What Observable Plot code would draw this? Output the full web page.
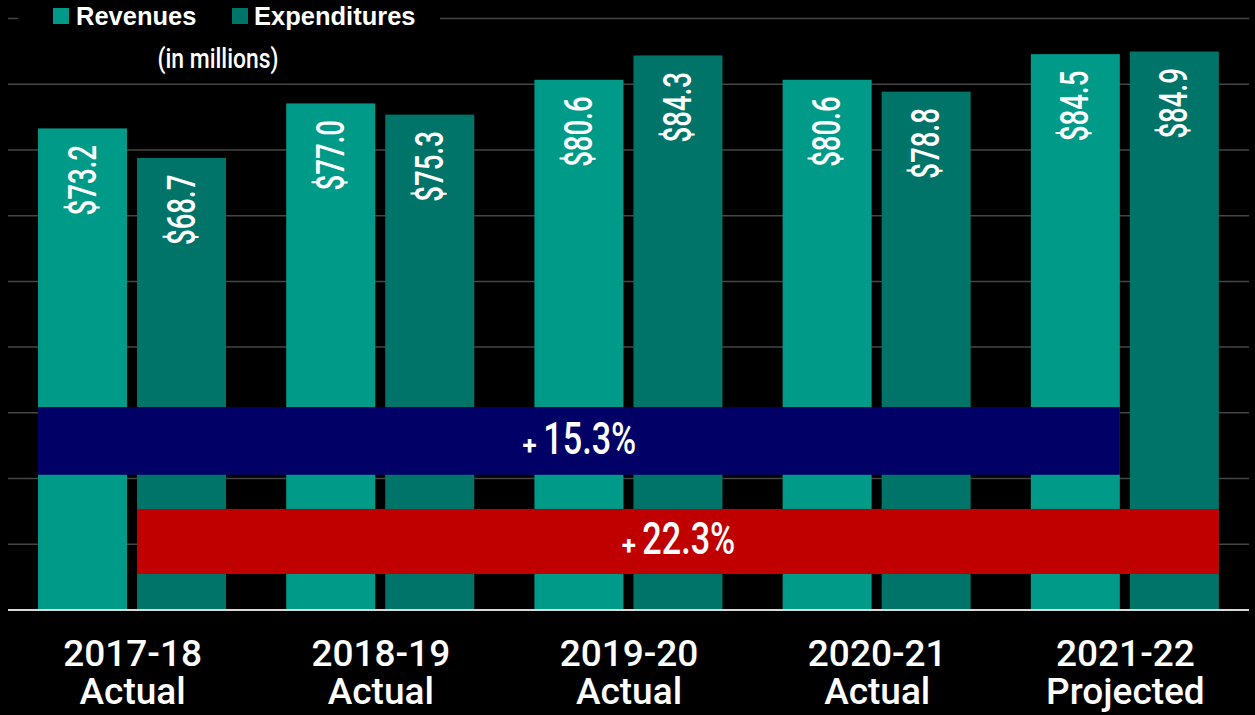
<!DOCTYPE html>
<html>
<head>
<meta charset="utf-8">
<script src="https://cdn.jsdelivr.net/npm/d3@7"></script>
<script src="https://cdn.jsdelivr.net/npm/@observablehq/plot@0.6"></script>
<style>
  html, body { margin: 0; padding: 0; background: #000; }
  #wrap { position: relative; width: 1255px; height: 715px; overflow: hidden; background: #000; }
  #chart svg { display: block; }
  #legend { position: absolute; left: 18px; top: 0; width: 422px; height: 34px; background: #000;
            font-family: "Liberation Sans", Arial, sans-serif; font-weight: bold; font-size: 25.5px; color: #fff; }
  #legend .sw { position: absolute; top: 8px; width: 16px; height: 16px; }
  #legend .lb { position: absolute; top: 4px; line-height: 25px; white-space: nowrap; }
  #unit { position: absolute; left: 218px; top: 44px; color: #fff; white-space: nowrap;
          font-family: Roboto, "Liberation Sans", sans-serif; font-weight: 500; font-size: 27px; line-height: 30px;
          transform-origin: 0 0; }
</style>
</head>
<body>
<div id="wrap">
  <div id="chart"></div>
  <div id="legend"></div>
  <div id="unit">(in millions)</div>
</div>
<script>
// ---- data ----
const years = ["2017-18", "2018-19", "2019-20", "2020-21", "2021-22"];
const status = ["Actual", "Actual", "Actual", "Actual", "Projected"];
const series = ["Revenues", "Expenditures"];
const revenues = [73.2, 77.0, 80.6, 80.6, 84.5];
const expenditures = [68.7, 75.3, 84.3, 78.8, 84.9];
const growthLabels = ["+ 15.3%", "+ 22.3%"];     // revenue growth, expenditure growth
const growthSeries = ["Revenues", "Expenditures"];
const growthLow = [20.5, 5.4];                     // annotation band extents (in $ millions)
const growthHigh = [30.8, 15.3];
const yTicks = [10, 20, 30, 40, 50, 60, 70, 80, 90];

// ---- style ----
const seriesColors = ["#009a89", "#007468"];
const bandColors = ["#000066", "#c00000"];
const ROBOTO = 'Roboto, "Liberation Sans", sans-serif';
const SANS = '"Liberation Sans", Arial, sans-serif';

// layout of the two bars inside each year slot (fractions of a slot)
const slotPad = 0.121, barW = 0.3586, barGap = 0.0403;
const barStart = s => slotPad + series.indexOf(s) * (barW + barGap);

const bars = [];
years.forEach((y, i) => {
  bars.push({year: y, i, series: "Revenues", value: revenues[i]});
  bars.push({year: y, i, series: "Expenditures", value: expenditures[i]});
});
bars.forEach(d => { d.x1 = d.i + barStart(d.series); d.x2 = d.x1 + barW; });

const bands = growthLabels.map((label, k) => {
  const s = growthSeries[k];
  return {
    label,
    x1: 0 + barStart(s),
    x2: (years.length - 1) + barStart(s) + barW,
    y1: growthLow[k], y2: growthHigh[k], color: bandColors[k]
  };
});

const plot = Plot.plot({
  width: 1255, height: 715,
  marginTop: 18, marginBottom: 105.5, marginLeft: 8, marginRight: 6,
  style: {background: "#000", color: "#fff", fontFamily: SANS},
  x: {domain: [0, years.length], axis: null},
  y: {domain: [0, 90], axis: null},
  color: {domain: series, range: seriesColors},
  marks: [
    Plot.gridY(yTicks, {stroke: "#454545", strokeOpacity: 1, strokeWidth: 1.5}),
    Plot.rect(bars, {x1: "x1", x2: "x2", y1: 0, y2: "value", fill: "series"}),
    Plot.text(bars, {
      x: d => (d.x1 + d.x2) / 2, y: "value", text: d => "$" + d.value.toFixed(1),
      rotate: -90, textAnchor: "end", lineAnchor: "middle", dy: 16,
      fill: "#fff", fontSize: 39, fontWeight: 500, fontFamily: ROBOTO
    }),
    ...bands.map(b => Plot.rect([b], {x1: "x1", x2: "x2", y1: "y1", y2: "y2", fill: b.color})),
    Plot.text(bands, {
      x: d => (d.x1 + d.x2) / 2, y: d => (d.y1 + d.y2) / 2, text: "label", dy: -2,
      fill: "#fff", fontSize: 45, fontWeight: 500, fontFamily: ROBOTO, lineAnchor: "middle"
    }),
    Plot.ruleY([0], {stroke: "#d9d9d9", strokeWidth: 2}),
    Plot.axisX(years.map((_, i) => i + 0.5), {
      tickFormat: d => years[Math.floor(d)] + "\n" + status[Math.floor(d)],
      tickSize: 0, tickPadding: 28, fontSize: 37, fontWeight: 500, lineHeight: 1.05,
      fontFamily: ROBOTO, label: null, fill: "#fff"
    })
  ]
});
document.getElementById("chart").append(plot);

function condense(el, f) {
  const L = el.getComputedTextLength();
  el.setAttribute("textLength", (L * f).toFixed(1));
  el.setAttribute("lengthAdjust", "spacingAndGlyphs");
}

plot.querySelectorAll("text").forEach(t => {
  const s = t.textContent;
  if (t.children.length === 0 && s.startsWith("$")) {
    condense(t, 0.71);
  } else if (t.children.length === 0 && growthLabels.includes(s)) {
    // smaller "+" followed by condensed percentage
    t.textContent = "";
    const a = document.createElementNS("http://www.w3.org/2000/svg", "tspan");
    a.setAttribute("font-size", "26");
    a.setAttribute("font-weight", "700");
    a.textContent = "+ ";
    const b = document.createElementNS("http://www.w3.org/2000/svg", "tspan");
    b.textContent = s.slice(2);
    t.append(a, b);
    condense(b, 0.76);
  }
});

// legend
const legend = document.getElementById("legend");
const legendPos = [{sw: 35, lb: 58}, {sw: 214, lb: 236}];
series.forEach((s, k) => {
  const sw = document.createElement("div");
  sw.className = "sw"; sw.style.left = legendPos[k].sw + "px"; sw.style.background = seriesColors[k];
  const lb = document.createElement("div");
  lb.className = "lb"; lb.style.left = legendPos[k].lb + "px"; lb.textContent = s;
  legend.append(sw, lb);
});

// condensed unit note, centred at x = 218
const unit = document.getElementById("unit");
const w = unit.getBoundingClientRect().width;
const sx = 121 / w;
unit.style.transform = `translateX(${-w * sx / 2}px) scaleX(${sx})`;
</script>
</body>
</html>
